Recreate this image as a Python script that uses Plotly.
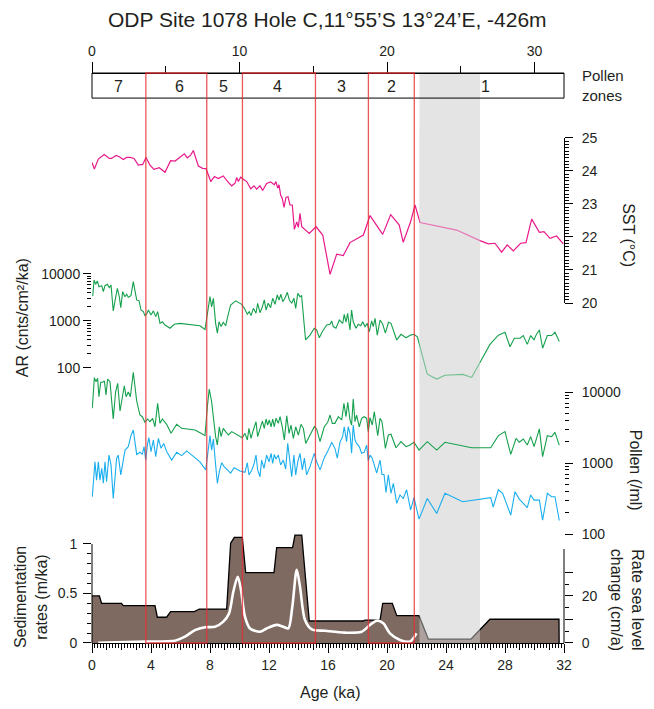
import plotly.graph_objects as go

# ---------------- data (age in ka) ----------------
sst_record = [(0.0,24.26),(0.16,24.06),(0.43,24.36),(0.83,24.5),(1.17,24.38),(1.33,24.38),(1.63,24.47),(1.85,24.43),
 (2.12,24.35),(2.35,24.41),(2.58,24.41),(2.85,24.38),(3.14,24.18),(3.44,24.2),(3.66,24.41),(3.93,24.18),(4.2,24.05),
 (4.56,24.1),(4.95,23.96),(5.33,24.31),(5.63,24.3),(5.97,24.43),(6.26,24.52),(6.46,24.4),(6.69,24.48),(6.87,24.62),
 (7.21,24.15),(7.5,24.08),(7.73,24.07),(8.05,23.68),(8.3,23.83),(8.56,23.77),(8.9,23.85),(9.2,23.68),(9.47,23.55),
 (9.7,23.63),(9.81,23.8),(9.92,23.68),(10.08,23.81),(10.26,23.75),(10.49,23.68),(10.76,23.46),(10.98,23.55),
 (11.16,23.45),(11.39,23.55),(11.57,23.41),(11.84,23.62),(12.11,23.67),(12.36,23.58),(12.47,23.68),(12.59,23.48),
 (12.68,23.58),(12.79,23.27),(12.9,23.17),(13.02,22.9),(13.15,23.2),(13.29,23.22),(13.42,22.97),(13.58,22.97),
 (13.72,22.23),(13.88,22.46),(13.99,22.29),(14.1,22.72),(14.22,22.31),(14.73,22.11),(15.19,22.31),(15.64,22.06),
 (16.14,20.87),(16.59,21.48),(17.04,21.44),(17.49,21.83),(18.4,22.06),(18.85,22.65),(19.71,22.08),(20.25,22.68),
 (20.83,22.36),(21.1,21.84),(21.6,22.46),(21.9,22.97),(22.24,22.44),(24.72,22.21),(26.3,21.89),(26.87,21.79),
 (27.32,21.81),(27.77,21.54),(28.15,21.76),(28.56,21.58),(29.06,21.81),(29.42,21.83),(29.81,22.54),(30.33,22.14),
 (30.64,22.16),(31.05,21.96),(31.5,22.03),(31.95,21.79)]

ar_record = [(0.05,3400),(0.14,7470),(0.25,6030),(0.36,7100),(0.47,5370),(0.66,5640),(0.77,4200),(0.88,5640),
 (1.04,6030),(1.17,5130),(1.29,5830),(1.44,1640),(1.6,3130),(1.72,4970),(1.85,3280),(1.95,1920),(2.08,4200),
 (2.23,3280),(2.35,3700),(2.46,3190),(2.64,3450),(2.8,6860),(3.03,2800),(3.19,2680),(3.32,1710),(3.48,1580),
 (3.59,1300),(3.7,1390),(3.82,1710),(4.0,1340),(4.16,1640),(4.32,1240),(4.45,1580),(4.61,890),(4.77,960),
 (4.95,820),(5.29,700),(5.58,850),(5.97,890),(6.42,850),(6.87,820),(7.32,790),(7.66,660),(7.82,1450),(8.0,3290),
 (8.11,2000),(8.23,3040),(8.38,890),(8.5,550),(8.61,960),(8.75,760),(8.9,940),(9.06,790),(9.2,1240),(9.4,2190),
 (9.74,2680),(10.15,2260),(10.33,1860),(10.53,1390),(10.66,1580),(10.78,1300),(10.94,1860),(11.12,1460),
 (11.23,2380),(11.39,1500),(11.55,2000),(11.68,2800),(11.8,1710),(11.95,2380),(12.11,1920),(12.25,3040),
 (12.41,2260),(12.56,3580),(12.68,2800),(12.81,3700),(12.93,2580),(13.08,3040),(13.24,4080),(13.38,2800),
 (13.54,2380),(13.69,3040),(13.81,1860),(13.95,3870),(14.1,3290),(14.21,3450),(14.48,395),(14.78,500),
 (15.07,700),(15.23,645),(15.41,440),(15.61,590),(15.91,820),(16.14,850),(16.25,1000),(16.36,760),(16.54,700),
 (16.77,1050),(17.0,890),(17.1,1390),(17.22,940),(17.33,1450),(17.49,645),(17.6,1710),(17.71,960),(17.9,700),
 (18.05,850),(18.22,790),(18.35,960),(18.51,760),(18.66,890),(18.8,590),(18.96,1000),(19.07,760),(19.19,1140),
 (19.34,500),(19.53,1050),(19.71,850),(19.89,550),(20.1,940),(20.27,890),(20.66,395),(20.95,520),(21.29,440),
 (21.6,500),(21.83,520),(22.06,460),(22.73,74),(23.37,58),(23.93,70),(25.13,73),(25.74,63),(26.98,318),
 (27.55,500),(28.0,575),(28.34,283),(28.63,430),(29.02,430),(29.24,490),(29.51,318),(29.74,490),(29.97,395),
 (30.1,500),(30.33,645),(30.55,263),(30.87,490),(31.16,490),(31.39,575),(31.68,365)]

pollen_green_record = [(0.02,5890),(0.16,15900),(0.27,14000),(0.38,15600),(0.47,8590),(0.59,13700),(0.72,13700),
 (0.84,14300),(0.95,9070),(1.06,15200),(1.22,14000),(1.44,4170),(1.6,10000),(1.74,13260),(1.9,5400),(2.06,8150),
 (2.19,12260),(2.31,8590),(2.46,10000),(2.6,8590),(2.8,18900),(3.03,7470),(3.25,4740),(3.41,4490),(3.59,3740),
 (3.77,4170),(3.93,3820),(4.11,4260),(4.27,3240),(4.45,6930),(4.61,3620),(4.77,4170),(5.06,3510),(5.36,2620),
 (5.74,3510),(6.08,3080),(6.53,3020),(6.98,2920),(7.39,2620),(7.66,2430),(7.82,6210),(7.95,11000),(8.11,7300),
 (8.23,4260),(8.38,2350),(8.5,1800),(8.63,3240),(8.75,2350),(8.9,3080),(9.06,2770),(9.24,2480),(9.47,2770),
 (9.81,2540),(10.19,2270),(10.37,2620),(10.53,2110),(10.64,3080),(10.78,2220),(10.94,2920),(11.12,3820),
 (11.23,2350),(11.39,2920),(11.55,3900),(11.68,3080),(11.8,4170),(11.91,3430),(12.02,4040),(12.14,3240),
 (12.25,4170),(12.36,3240),(12.47,4260),(12.63,3620),(12.75,4490),(12.9,3240),(13.04,2110),(13.2,4640),
 (13.36,2620),(13.49,3430),(13.65,2220),(13.81,3240),(13.99,2480),(14.17,3510),(14.33,3080),(14.49,1890),
 (14.78,2480),(15.07,3240),(15.23,3020),(15.46,2000),(15.75,3240),(15.98,3740),(16.14,4740),(16.29,3620),
 (16.47,3620),(16.7,4490),(16.93,4040),(17.08,6930),(17.22,4490),(17.34,7170),(17.49,4040),(17.6,3430),
 (17.71,7970),(17.83,3820),(17.94,4740),(18.12,3240),(18.28,4260),(18.46,4490),(18.62,4260),(18.73,2770),
 (18.85,4350),(19.0,3430),(19.14,5280),(19.25,3620),(19.37,2430),(19.53,4260),(19.66,3820),(19.89,1610),
 (20.09,2480),(20.27,2540),(20.61,1640),(20.95,2000),(21.29,1700),(21.56,1790),(21.83,1960),(22.17,1520),
 (22.73,2000),(23.37,1520),(23.93,1960),(25.74,1640),(27.03,1640),(27.55,2430),(28.0,2770),(28.39,1320),
 (28.75,2220),(28.97,1960),(29.24,2180),(29.51,1790),(29.74,2350),(29.97,1700),(30.33,3020),(30.55,1230),
 (30.87,2430),(31.16,2350),(31.39,2700),(31.68,1790)]

pollen_blue_record = [(0.02,335),(0.2,1040),(0.31,575),(0.43,1040),(0.54,575),(0.66,840),(0.77,518),(0.88,1040),
 (0.99,545),(1.15,1290),(1.29,940),(1.44,316),(1.67,1170),(1.78,1290),(1.95,680),(2.24,1520),(2.46,1700),
 (2.64,2430),(2.8,2920),(3.03,1320),(3.25,1420),(3.41,1320),(3.53,1700),(3.64,1100),(3.77,1890),(3.86,2270),
 (4.0,1450),(4.16,2110),(4.32,1230),(4.5,2220),(4.68,1610),(4.86,1890),(5.06,1450),(5.4,1100),(5.74,1420),
 (6.08,1270),(6.42,1480),(6.76,1290),(7.32,1040),(7.71,800),(7.84,1370),(8.0,2430),(8.11,1520),(8.23,2180),
 (8.38,940),(8.5,518),(8.63,750),(8.79,1010),(8.96,890),(9.2,800),(9.4,720),(9.63,860),(10.03,770),(10.37,740),
 (10.53,1010),(10.64,680),(10.83,800),(10.98,960),(11.12,1290),(11.23,800),(11.39,640),(11.5,1100),(11.66,840),
 (11.84,1290),(12.0,1040),(12.14,1370),(12.25,990),(12.36,1320),(12.47,1140),(12.63,1290),(12.79,940),
 (12.97,1100),(13.13,820),(13.27,1890),(13.42,1040),(13.54,640),(13.69,1290),(13.81,680),(13.95,1040),
 (14.1,1370),(14.26,800),(14.4,1170),(14.55,680),(14.78,890),(15.07,1370),(15.23,1040),(15.46,800),(15.75,1190),
 (16.02,1520),(16.25,1960),(16.47,1610),(16.63,1170),(16.81,1960),(16.99,2350),(17.1,3240),(17.26,2000),
 (17.37,3240),(17.49,2620),(17.6,1370),(17.71,3430),(17.83,2110),(17.94,1890),(18.12,1700),(18.28,1370),
 (18.46,1420),(18.62,1790),(18.73,1070),(18.85,1290),(19.0,1170),(19.14,960),(19.3,720),(19.41,890),(19.53,1100),
 (19.66,690),(19.8,690),(19.93,386),(20.09,680),(20.27,375),(20.43,518),(20.66,270),(20.88,355),(21.1,316),
 (21.33,420),(21.6,218),(21.83,325),(22.17,162),(22.73,316),(23.37,195),(23.93,375),(25.13,285),(27.03,325),
 (27.2,240),(27.55,420),(27.84,375),(28.39,185),(28.68,395),(28.97,310),(29.51,235),(29.74,355),(29.97,300),
 (30.33,300),(30.55,157),(30.87,375),(31.16,335),(31.39,335),(31.68,155)]

sed_rate_record = [(0,0.475),(0.5,0.475),(0.65,0.40),(2.0,0.40),(2.12,0.377),(4.27,0.377),(4.43,0.26),(5.06,0.26),
 (5.33,0.317),(6.94,0.317),(7.27,0.343),(9.13,0.343),(9.4,1.007),(9.65,1.067),(10.19,1.067),(10.42,0.71),
 (12.34,0.71),(12.52,0.963),(13.6,0.963),(13.76,1.09),(14.22,1.09),(14.73,0.222),(18.4,0.222),(18.5,0.232),
 (19.53,0.232),(19.71,0.40),(20.36,0.40),(20.66,0.276),(22.17,0.276),(22.8,0.04),(25.7,0.04),(26.98,0.24),
 (31.66,0.24),(31.67,0.0)]

sea_level_record = [(0.43,0.1),(3.59,0.6),(5.63,1.0),(6.3,2.7),(6.98,5.5),(7.66,6.7),(8.34,6.9),(8.9,9.1),
 (9.29,12.6),(9.58,21.8),(9.88,28.2),(10.1,22.6),(10.37,11.2),(10.71,6.2),(11.39,4.8),(11.84,6.2),(12.52,7.7),
 (12.97,6.9),(13.31,6.2),(13.58,15.4),(13.88,31.1),(14.1,24.0),(14.44,9.8),(14.9,5.8),(15.8,5.2),(17.15,4.4),
 (18.28,4.8),(18.85,7.7),(19.3,9.5),(19.75,8.4),(20.2,4.1),(20.88,1.3),(21.56,0.6),(21.78,2.0),(22.0,4.1)]

zone_names = ["7", "6", "5", "4", "3", "2", "1"]
zone_label_age = [1.83, 5.9, 8.9, 12.6, 16.9, 20.3, 26.7]
red_boxes = [(3.65, 7.78), (10.2, 15.15), (18.74, 21.85)]
grey_band = (22.2, 26.3)

def split(rec):
    return [a for a, _ in rec], [v for _, v in rec]

FONT = "Liberation Sans, Arial, sans-serif"
TXT = "#231f20"
PINK = "#e8198b"
GREEN = "#14a04c"
BLUE = "#1aaeee"
BROWN = "#7f6a62"

fig = go.Figure()
x, y = split(sst_record)
fig.add_trace(go.Scatter(x=x, y=y, xaxis="x", yaxis="y", mode="lines", line=dict(color=PINK, width=1.2)))
x, y = split(ar_record)
fig.add_trace(go.Scatter(x=x, y=y, xaxis="x", yaxis="y2", mode="lines", line=dict(color=GREEN, width=1.1)))
x, y = split(pollen_green_record)
fig.add_trace(go.Scatter(x=x, y=y, xaxis="x", yaxis="y3", mode="lines", line=dict(color=GREEN, width=1.1)))
x, y = split(pollen_blue_record)
fig.add_trace(go.Scatter(x=x, y=y, xaxis="x", yaxis="y3", mode="lines", line=dict(color=BLUE, width=1.1)))
x, y = split(sed_rate_record)
fig.add_trace(go.Scatter(x=x, y=y, xaxis="x", yaxis="y4", mode="lines", fill="tozeroy",
                         fillcolor=BROWN, line=dict(color="black", width=1.3)))
x, y = split(sea_level_record)
fig.add_trace(go.Scatter(x=x, y=y, xaxis="x", yaxis="y5", mode="lines",
                         line=dict(color="white", width=2.6, shape="spline", smoothing=0.8)))
# carriers for overlay x axes
fig.add_trace(go.Scatter(x=[0, 32], y=[None, None], xaxis="x2", yaxis="y4", mode="lines", hoverinfo="skip"))
fig.add_trace(go.Scatter(x=[0, 32], y=[None, None], xaxis="x3", yaxis="y4", mode="lines", hoverinfo="skip"))

tf = dict(family=FONT, size=14, color=TXT)
common = dict(showgrid=False, zeroline=False, tickfont=tf, tickcolor="black", ticks="outside")

log_minor = [v * m for m in (100, 1000) for v in range(2, 10)]

# the page body adds an 8 px offset; the figure is sized to fit the window with it,
# so the plot area sits at x 92-564, y 73-643 in the screenshot
fig.update_layout(
    width=646, height=701, showlegend=False,
    margin=dict(l=84, r=90, t=65, b=66),
    paper_bgcolor="white", plot_bgcolor="rgba(0,0,0,0)",
    font=dict(family=FONT, color=TXT),
    xaxis=dict(domain=[0, 1], range=[0, 32], anchor="y4", showline=True, linecolor="black", linewidth=1,
               tickmode="array", tickvals=list(range(0, 33)), ticklen=6, showticklabels=False,
               minor=dict(tickmode="array", tickvals=[round(i * 0.2, 1) for i in range(161)],
                          ticklen=3.5, tickcolor="black", ticks="outside"), **common),
    xaxis2=dict(overlaying="x", side="top", anchor="free", position=1, range=[0, 32],
                tickmode="array", tickvals=[0, 10, 20, 30], ticklen=11, showline=True, linecolor="black",
                minor=dict(tickmode="array", tickvals=[5, 15, 25], ticklen=7, tickcolor="black", ticks="outside"),
                **common),
    xaxis3=dict(overlaying="x", side="bottom", anchor="y4", range=[0, 32], showline=False,
                tickmode="array", tickvals=list(range(0, 33, 4)), ticklen=9, **common),
    yaxis=dict(domain=[0.5965, 0.886], range=[20, 25], side="right", anchor="x", showline=True,
               linecolor="black", tickmode="array", tickvals=[20, 21, 22, 23, 24, 25], ticklen=8,
               ticklabelstandoff=6,
               minor=dict(tickmode="array", tickvals=[round(20 + i * 0.1, 1) for i in range(51)],
                          ticklen=4, tickcolor="black", ticks="outside"), **common),
    yaxis2=dict(domain=[0.433, 0.6639], type="log", range=[1.4, 4.2], side="left", anchor="x", showline=False,
                tickmode="array", tickvals=[100, 1000, 10000], ticktext=["100", "1000", "10000"], ticklen=8,
                minor=dict(tickmode="array", tickvals=log_minor, ticklen=4, tickcolor="black", ticks="outside"),
                **common),
    yaxis3=dict(domain=[0.1663, 0.5026], type="log", range=[1.8, 4.5], side="right", anchor="x", showline=False,
                tickmode="array", tickvals=[100, 1000, 10000], ticktext=["100", "1000", "10000"], ticklen=8,
                ticklabelstandoff=6,
                minor=dict(tickmode="array", tickvals=log_minor, ticklen=4, tickcolor="black", ticks="outside"),
                **common),
    yaxis4=dict(domain=[0, 0.1946], range=[0, 1.12], side="left", anchor="x", showline=False,
                tickmode="array", tickvals=[0, 0.5, 1], ticktext=["0", "0.5", "1"], ticklen=8,
                ticklabelstandoff=3,
                minor=dict(tickmode="array", tickvals=[round(i * 0.1, 1) for i in range(11)],
                           ticklen=4, tickcolor="black", ticks="outside"), **common),
    yaxis5=dict(overlaying="y4", range=[0, 47.2], side="right", anchor="x", showline=False,
                tickmode="array", tickvals=[0, 10, 20, 30], ticktext=["0", "", "20", ""], ticklen=8,
                ticklabelstandoff=6,
                minor=dict(tickmode="array", tickvals=[5, 15, 25], ticklen=4, tickcolor="black", ticks="outside"),
                **common),
)

shapes = []
# grey band (background)
shapes.append(dict(type="rect", xref="x", yref="paper", x0=grey_band[0], x1=grey_band[1], y0=0, y1=1,
                   fillcolor="#e4e4e4", line=dict(width=0), layer="below"))
# translucent overlay on upper records and bottom panel
for y0, y1 in [(0.4526, 0.90), (0, 0.2)]:
    shapes.append(dict(type="rect", xref="x", yref="paper", x0=grey_band[0], x1=grey_band[1], y0=y0, y1=y1,
                       fillcolor="rgba(228,228,228,0.45)", line=dict(width=0), layer="above"))
# pollen zone box
shapes.append(dict(type="rect", xref="paper", yref="paper", x0=0, x1=1, y0=0.956, y1=1,
                   line=dict(color="black", width=1), layer="above"))
# partial axis lines
shapes.append(dict(type="line", xref="paper", yref="y2", x0=0, x1=0, y0=2, y1=4, line=dict(color="black", width=1)))
shapes.append(dict(type="line", xref="paper", yref="y3", x0=1, x1=1, y0=2, y1=4, line=dict(color="black", width=1)))
shapes.append(dict(type="line", xref="paper", yref="y4", x0=0, x1=0, y0=0, y1=1, line=dict(color="black", width=1)))
shapes.append(dict(type="line", xref="paper", yref="y5", x0=1, x1=1, y0=0, y1=40, line=dict(color="black", width=1)))
# red boxes
for a0, a1 in red_boxes:
    shapes.append(dict(type="rect", xref="x", yref="paper", x0=a0, x1=a1, y0=0, y1=1,
                       line=dict(color="rgba(232,45,50,0.8)", width=1.3), layer="above"))
fig.update_layout(shapes=shapes)

def label(x, y, text, size=16, angle=0, xref="paper", xanchor="center", align="center"):
    return dict(x=x, y=y, xref=xref, yref="paper", text=text, showarrow=False, textangle=angle,
                xanchor=xanchor, yanchor="middle", align=align,
                font=dict(family=FONT, size=size, color=TXT))

ann = [label(a, 0.977, name, 16, xref="x") for name, a in zip(zone_names, zone_label_age)]
ann += [
    label(0.498, 1.093, "ODP Site 1078 Hole C,11°55’S 13°24’E, -426m", 21),
    label(1.034, 0.9775, "Pollen<br>zones", 15, xanchor="left", align="left"),
    label(1.135, 0.716, "SST (°C)", 16, 90),
    label(-0.148, 0.570, "AR (cnts/cm²/ka)", 16, -90),
    label(1.153, 0.3035, "Pollen (/ml)", 16, 90),
    label(-0.129, 0.0807, "Sedimentation<br>rates (m/ka)", 16, -90),
    label(1.134, 0.0754, "Rate sea level<br>change (cm/a)", 16, 90),
    label(0.504, -0.0877, "Age (ka)", 16),
]
fig.update_layout(annotations=ann)

fig.write_html("out.html")
